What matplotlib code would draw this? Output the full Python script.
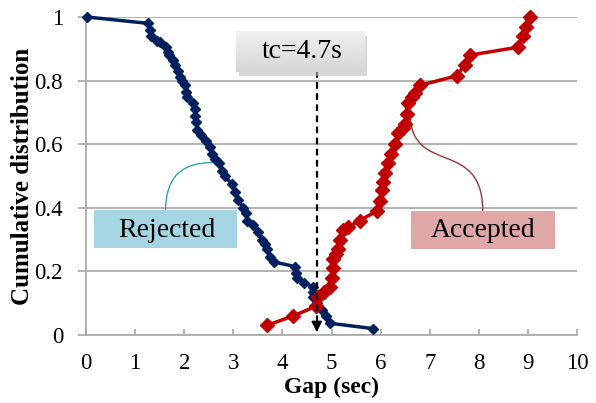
import numpy as np
import matplotlib
matplotlib.use("Agg")
import matplotlib.pyplot as plt
from matplotlib.patches import Rectangle, PathPatch
from matplotlib.path import Path

rej_x = [0.02, 1.26, 1.30, 1.32, 1.45, 1.51, 1.62, 1.66, 1.70, 1.78, 1.82, 1.88, 1.91, 1.96,
         2.02, 2.04, 2.06, 2.18, 2.21, 2.23, 2.24, 2.27, 2.35, 2.44, 2.52, 2.56, 2.62, 2.70,
         2.76, 2.83, 2.97, 3.03, 3.10, 3.20, 3.25, 3.28, 3.40, 3.51, 3.58, 3.64, 3.68, 3.75,
         3.82, 4.26, 4.28, 4.30, 4.45, 4.63, 4.63, 4.63, 4.70, 4.80, 4.88, 4.97, 5.85]
rej_y = [1.00, 0.98, 0.96, 0.94, 0.925, 0.92, 0.905, 0.89, 0.88, 0.865, 0.85, 0.83, 0.81, 0.80,
         0.785, 0.765, 0.75, 0.73, 0.71, 0.69, 0.67, 0.645, 0.63, 0.61, 0.59, 0.57, 0.555, 0.54,
         0.515, 0.50, 0.475, 0.45, 0.425, 0.40, 0.385, 0.36, 0.345, 0.325, 0.30, 0.285, 0.27, 0.245,
         0.23, 0.215, 0.195, 0.178, 0.165, 0.15, 0.135, 0.12, 0.10, 0.08, 0.06, 0.037, 0.02]

acc_x = [3.68, 4.22, 4.68, 4.73, 4.85, 4.97, 5.00, 5.03, 5.04, 5.10, 5.14, 5.17, 5.24, 5.34,
         5.58, 5.92, 5.99, 6.02, 6.05, 6.09, 6.16, 6.22, 6.29, 6.36, 6.45, 6.50, 6.53, 6.56,
         6.63, 6.70, 6.80, 7.55, 7.72, 7.82, 8.80, 8.91, 8.97, 9.04]
acc_y = [0.03, 0.06, 0.09, 0.12, 0.135, 0.15, 0.18, 0.21, 0.24, 0.255, 0.27, 0.30, 0.33, 0.34,
         0.36, 0.39, 0.42, 0.455, 0.48, 0.51, 0.54, 0.57, 0.60, 0.635, 0.65, 0.665, 0.695, 0.73,
         0.75, 0.76, 0.785, 0.815, 0.85, 0.88, 0.905, 0.94, 0.97, 1.00]

x_ticks = [0, 1, 2, 3, 4, 5, 6, 7, 8, 9, 10]
y_ticks = [0, 0.2, 0.4, 0.6, 0.8, 1.0]
y_tick_labels = ["0", "0.2", "0.4", "0.6", "0.8", "1"]
tc = 4.7

plt.rcParams['font.family'] = ['Liberation Serif', 'DejaVu Serif']

fig = plt.figure(figsize=(5.96, 4.03), dpi=100)
ax = fig.add_axes([86/596, 1 - 335/403, (577-86)/596, (335-17)/403])
ax.set_xlim(0, 10)
ax.set_ylim(0, 1)

for s in ['top', 'right']:
    ax.spines[s].set_visible(False)
for s in ['left', 'bottom']:
    ax.spines[s].set_color('#A6A6A6')
    ax.spines[s].set_linewidth(1.2)

ax.set_yticks(y_ticks)
ax.set_yticklabels(y_tick_labels)
ax.set_xticks(x_ticks)
ax.tick_params(axis='y', direction='out', length=6, color='#A6A6A6', width=1.2, pad=10.5, labelsize=16.5)
ax.tick_params(axis='x', direction='in', length=4.5, color='#A6A6A6', width=1.2, pad=13, labelsize=16.5)
ax.grid(axis='y', color='#A6A6A6', linewidth=1.2)
ax.set_axisbelow(True)

ax.set_xlabel('Gap (sec)', fontsize=17, fontweight='bold')
ax.xaxis.set_label_coords(0.5, -0.13)
ax.xaxis.label.set_va('top')
ax.set_ylabel('Cumulative distribution', fontsize=18, fontweight='bold')
ax.yaxis.set_label_coords(-0.129, 0.5)
ax.yaxis.label.set_va('center')

ax.plot(rej_x, rej_y, color='#002060', linewidth=2.5, marker='D', markersize=5,
        clip_on=False, zorder=4)
ax.plot(acc_x, acc_y, color='#C00000', linewidth=2.5, marker='D', markersize=7,
        clip_on=False, zorder=4)

# dashed threshold arrow
ax.plot([tc, tc], [0.83, 0.035], color='black', linestyle=(0, (3, 2)), linewidth=1.6, zorder=5)
ax.annotate('', xy=(tc, 0.0), xytext=(tc, 0.05),
            arrowprops=dict(arrowstyle='-|>', color='black', lw=1.2, mutation_scale=16),
            zorder=6)

# tc box with gradient and shadow
bx0, bx1, by0, by1 = 3.05, 5.66, 0.827, 0.953
ax.add_patch(Rectangle((bx0 + 0.06, by0 - 0.012), bx1 - bx0, by1 - by0,
                       facecolor='#BFBFBF', edgecolor='none', alpha=0.6, zorder=6))
grad = np.linspace(0.94, 0.84, 64).reshape(-1, 1)
ax.imshow(grad, extent=(bx0, bx1, by0, by1), origin='upper', cmap='gray', vmin=0, vmax=1,
          aspect='auto', zorder=7)
ax.set_xlim(0, 10)
ax.set_ylim(0, 1)
ax.text((bx0 + bx1) / 2 + 0.05, (by0 + by1) / 2, 'tc=4.7s', fontsize=20, ha='center', va='center', zorder=8)

# Rejected label
ax.add_patch(Rectangle((0.16, 0.274), 2.91, 0.119, facecolor='#A5D5E2', edgecolor='none', zorder=3))
ax.text(1.65, 0.33, 'Rejected', fontsize=20, ha='center', va='center', zorder=8)
p = Path([(1.62, 0.393), (1.62, 0.545), (2.59, 0.542)], [Path.MOVETO, Path.CURVE3, Path.CURVE3])
ax.add_patch(PathPatch(p, facecolor='none', edgecolor='#31A0B0', lw=1.0, zorder=3))

# Accepted label
ax.add_patch(Rectangle((6.62, 0.271), 2.93, 0.119, facecolor='#DFA7A7', edgecolor='none', zorder=3))
ax.text(8.08, 0.33, 'Accepted', fontsize=20, ha='center', va='center', zorder=8)
p2 = Path([(6.60, 0.69), (6.65, 0.50), (8.08, 0.62), (8.08, 0.39)],
          [Path.MOVETO, Path.CURVE4, Path.CURVE4, Path.CURVE4])
ax.add_patch(PathPatch(p2, facecolor='none', edgecolor='#943634', lw=1.0, zorder=3))

fig.savefig('out.png', dpi=100)
